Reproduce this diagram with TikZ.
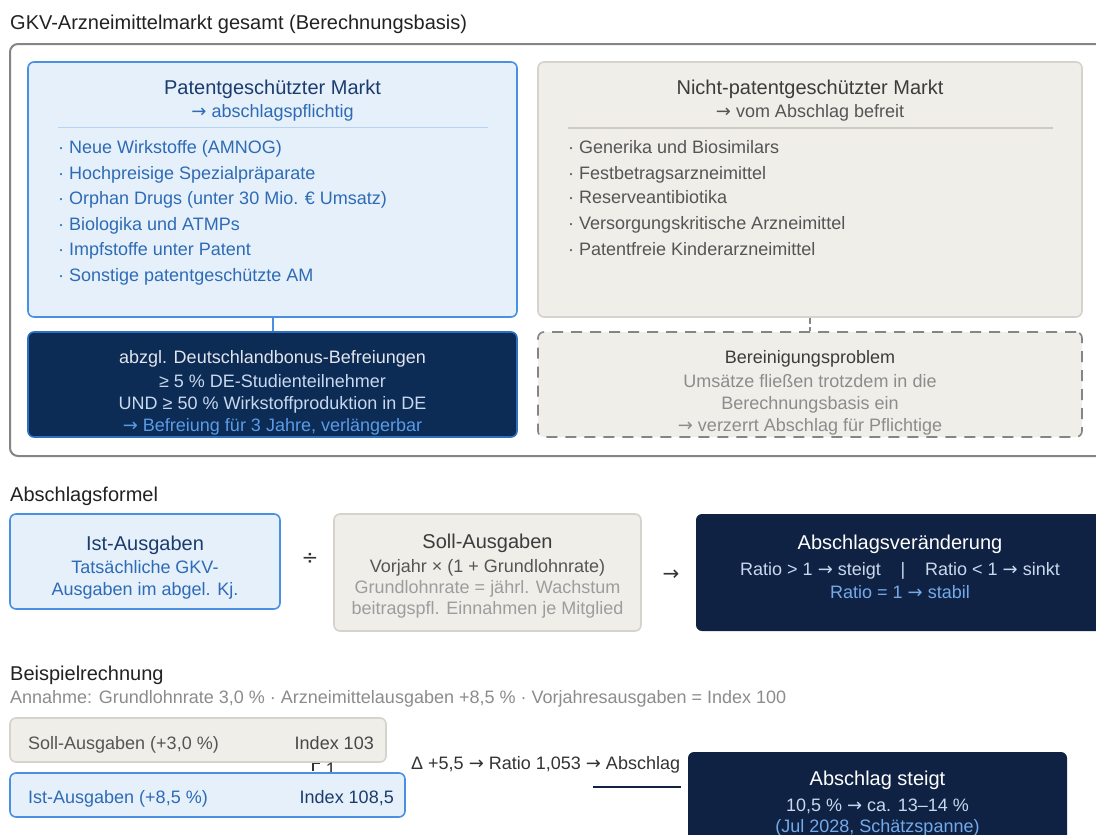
\documentclass[tikz,border=0pt]{standalone}
\usepackage{fontspec}
\setmainfont{Liberation Sans}
\newfontfamily\symfont{DejaVu Sans}
\newcommand{\ra}{{\symfont →}}
\definecolor{cBlueF}{HTML}{E6F0FB}
\definecolor{cBlueB}{HTML}{4A90E2}
\definecolor{cBlueT}{HTML}{1A3D6E}
\definecolor{cBlueI}{HTML}{2D6BB5}
\definecolor{cBlueSep}{HTML}{B5D3F3}
\definecolor{cGrayF}{HTML}{F0EEE9}
\definecolor{cGrayB}{HTML}{D6D3CC}
\definecolor{cGrayT}{HTML}{3C3C3C}
\definecolor{cGrayI}{HTML}{555555}
\definecolor{cGrayL}{HTML}{8C8C8C}
\definecolor{cFrame}{HTML}{858585}
\definecolor{cNavy}{HTML}{0F2243}
\definecolor{cNavyDE}{HTML}{0C2B55}
\definecolor{cNavyB}{HTML}{2F6FC0}
\definecolor{cLight}{HTML}{C8D8EE}
\definecolor{cAccent}{HTML}{5B9BE6}
\definecolor{cInk}{HTML}{222222}
\definecolor{cDark}{HTML}{333333}
\definecolor{cSepG}{HTML}{CFCBC4}
\tikzset{
  box/.style={rounded corners=6pt, line width=1.6pt, inner sep=0pt},
  bluebox/.style={box, draw=cBlueB, fill=cBlueF},
  graybox/.style={box, draw=cGrayB, fill=cGrayF},
  debox/.style={box, draw=cNavyB, fill=cNavyDE},
  navybox/.style={box, fill=cNavy},
  dashbox/.style={box, draw=cFrame, fill=cGrayF, dash pattern=on 11pt off 8pt},
  framebox/.style={rounded corners=8pt, line width=2pt, draw=cFrame, fill=white, inner sep=0pt},
  tA/.style={inner sep=0pt, anchor=base, font=\fontsize{18}{22}\selectfont},
  tB/.style={inner sep=0pt, anchor=base, font=\fontsize{20}{24}\selectfont},
  li/.style={tA, anchor=base west},
}
\begin{document}
\begin{tikzpicture}[x=1pt,y=-1pt]
\useasboundingbox (0,0) rectangle (1096,835);
\clip (0,0) rectangle (1096,835);
\fill[white] (0,0) rectangle (1096,835);

% ---------- Section 1 ----------
\node[tB, anchor=base west, text=cInk] (t1) at (10,29.5) {GKV-Arzneimittelmarkt gesamt (Berechnungsbasis)};
\node[framebox, minimum width=1095, minimum height=412] (frame) at (557.5,250) {};

\node[bluebox, minimum width=489, minimum height=255] (pat) at (272.5,189.5) {};
\node[graybox, minimum width=544, minimum height=255] (nicht) at (810,189.5) {};
\node[debox, minimum width=489, minimum height=105] (de) at (272.5,384.5) {};
\node[dashbox, minimum width=544, minimum height=105] (ber) at (810,384.5) {};

\draw[cBlueB, line width=2pt] (pat.south) -- (de.north);
\draw[cFrame, line width=1.6pt, dash pattern=on 6pt off 3pt] (nicht.south) -- (ber.north);

% patent box content
\node[tB, text=cBlueT] (patT) at (272.5,94) {Patentgeschützter Markt};
\node[tA, text=cBlueI] (patS) at (272.5,117.5) {\ra\ abschlagspflichtig};
\draw[cBlueSep, line width=1.5pt] (58,127.5) -- (488,127.5);
\begin{scope}[every node/.style={li, text=cBlueI}]
\node (p1) at (58,153.5) {· Neue Wirkstoffe (AMNOG)};
\node (p2) at (58,179.5) {· Hochpreisige Spezialpräparate};
\node (p3) at (58,204.5) {· Orphan Drugs (unter 30 Mio. € Umsatz)};
\node (p4) at (58,230.5) {· Biologika und ATMPs};
\node (p5) at (58,255.5) {· Impfstoffe unter Patent};
\node (p6) at (58,281.5) {· Sonstige patentgeschützte AM};
\end{scope}

% non-patent box content
\node[tB, text=cGrayT] (nT) at (810,94) {Nicht-patentgeschützter Markt};
\node[tA, text=cGrayI] (nS) at (810,117.5) {\ra\ vom Abschlag befreit};
\draw[cSepG, line width=1.5pt] (568,128) -- (1053,128);
\begin{scope}[every node/.style={li, text=cGrayI}]
\node (n1) at (568,153.5) {· Generika und Biosimilars};
\node (n2) at (568,179.5) {· Festbetragsarzneimittel};
\node (n3) at (568,203.5) {· Reserveantibiotika};
\node (n4) at (568,229.5) {· Versorgungskritische Arzneimittel};
\node (n5) at (568,255.5) {· Patentfreie Kinderarzneimittel};
\end{scope}

% DE box content
\node[tA, text=white!88!cNavyDE] (d1) at (272.5,363.5) {abzgl. Deutschlandbonus-Befreiungen};
\node[tA, text=cLight] (d2) at (272.5,387.5) {≥ 5 \% DE-Studienteilnehmer};
\node[tA, text=cLight] (d3) at (272.5,409.5) {UND ≥ 50 \% Wirkstoffproduktion in DE};
\node[tA, text=cAccent] (d4) at (272.5,431.5) {\ra\ Befreiung für 3 Jahre, verlängerbar};

% Bereinigung content
\node[tA, text=cGrayT] (b1) at (810,363.5) {Bereinigungsproblem};
\node[tA, text=cGrayL] (b2) at (810,387.5) {Umsätze fließen trotzdem in die};
\node[tA, text=cGrayL] (b3) at (810,409.5) {Berechnungsbasis ein};
\node[tA, text=cGrayL] (b4) at (810,431.5) {\ra\ verzerrt Abschlag für Pflichtige};

% ---------- Section 2 ----------
\node[tB, anchor=base west, text=cInk] (t2) at (10,501) {Abschlagsformel};
\node[bluebox, minimum width=270, minimum height=95] (ist) at (145,561.5) {};
\node[tB, text=cBlueT] (i1) at (145,550) {Ist-Ausgaben};
\node[tA, text=cBlueI] (i2) at (145,573.5) {Tatsächliche GKV-};
\node[tA, text=cBlueI] (i3) at (145,595.5) {Ausgaben im abgel. Kj.};

\node[tB, text=cDark, font=\fontsize{20}{24}\symfont] (div) at (310,564) {÷};

\node[graybox, minimum width=307, minimum height=117] (soll) at (487.5,572.5) {};
\node[tB, text=cGrayT] (s1) at (487.5,548) {Soll-Ausgaben};
\node[tA, text=cGrayI] (s2) at (487.5,572.5) {Vorjahr × (1 + Grundlohnrate)};
\node[tA, text=cGrayL!85!white] (s3) at (487.5,593.5) {Grundlohnrate = jährl. Wachstum};
\node[tA, text=cGrayL!85!white] (s4) at (487.5,614.5) {beitragspfl. Einnahmen je Mitglied};

\node[tB, text=cDark, font=\fontsize{20}{24}\symfont] (arr) at (671,580) {→};

\node[navybox, minimum width=408, minimum height=117] (abv) at (900,572.5) {};
\node[tB, text=white] (a1) at (900,549) {Abschlagsveränderung};
\node[tA, text=cLight] (a2) at (900,575.5) {Ratio > 1 \ra\ steigt\hspace{1.1em}|\hspace{1.1em}Ratio < 1 \ra\ sinkt};
\node[tA, text=cAccent!85!white] (a3) at (900,598.5) {Ratio = 1 \ra\ stabil};

% ---------- Section 3 ----------
\node[tB, anchor=base west, text=cInk] (t3) at (10,680) {Beispielrechnung};
\node[tA, anchor=base west, text=cGrayL] (ann) at (10,703.5) {Annahme: Grundlohnrate 3,0 \% · Arzneimittelausgaben +8,5 \% · Vorjahresausgaben = Index 100};

\node[graybox, minimum width=376, minimum height=44] (sbar) at (198,740) {};
\node[li, text=cGrayI] (sb1) at (28,749.5) {Soll-Ausgaben (+3,0 \%)};
\node[tA, anchor=base east, text=cDark!90!white] (sb2) at (374,749.5) {Index 103};

\draw[cDark, line width=1.6pt] (313,771) -- (313,763.5) -- (320,763.5);
\node[tA, text=cDark] (one) at (331,775) {1};

\node[bluebox, minimum width=395, minimum height=44] (ibar) at (207.5,795) {};
\node[li, text=cBlueI] (ib1) at (28,803.5) {Ist-Ausgaben (+8,5 \%)};
\node[tA, anchor=base east, text=cBlueT] (ib2) at (394,803.5) {Index 108,5};

\node[li, text=cDark] (delta) at (411,769.5) {Δ +5,5 \ra\ Ratio 1,053 \ra\ Abschlag};

\coordinate (lnA) at (593,787);
\coordinate (lnB) at (681,787);
\draw[cNavy, line width=2pt] (lnA) -- (lnB);

\node[navybox, minimum width=379, minimum height=98] (steigt) at (877.5,801) {};
\node[tB, text=white] (st1) at (877.5,785) {Abschlag steigt};
\node[tA, text=cLight] (st2) at (877.5,811.5) {10,5 \% \ra\ ca. 13–14 \%};
\node[tA, text=cAccent!85!white] (st3) at (877.5,832.5) {(Jul 2028, Schätzspanne)};
\end{tikzpicture}
\end{document}
